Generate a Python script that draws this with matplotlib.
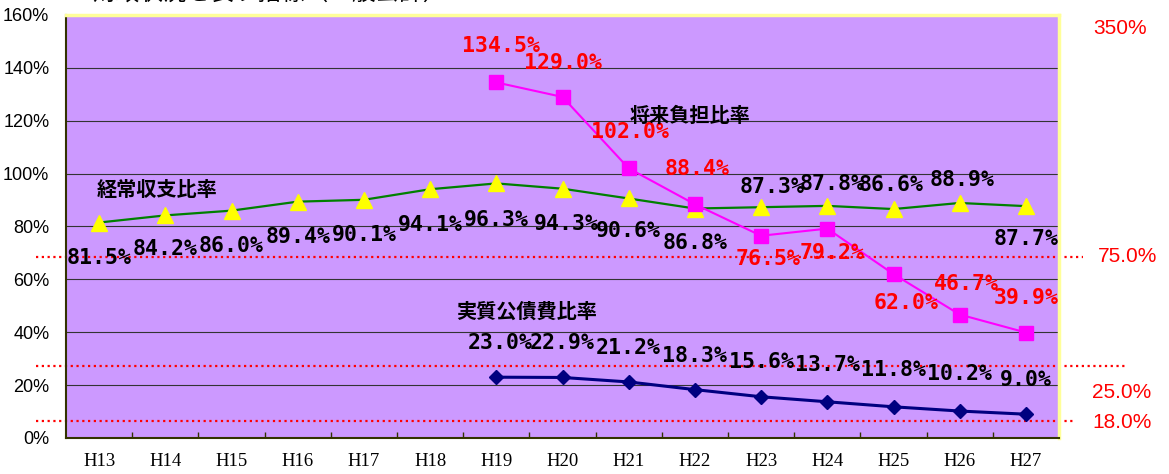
import matplotlib
import matplotlib.pyplot as plt
import numpy as np

matplotlib.use("Agg")

# --- data -------------------------------------------------------------
YEARS = ["H13", "H14", "H15", "H16", "H17", "H18", "H19", "H20",
         "H21", "H22", "H23", "H24", "H25", "H26", "H27"]

KEIJO = [81.5, 84.2, 86.0, 89.4, 90.1, 94.1, 96.3, 94.3,
         90.6, 86.8, 87.3, 87.8, 86.6, 88.9, 87.7]          # 経常収支比率
SHORAI = [134.5, 129.0, 102.0, 88.4, 76.5, 79.2, 62.0, 46.7, 39.9]  # 将来負担比率 (H19-)
JISSHITSU = [23.0, 22.9, 21.2, 18.3, 15.6, 13.7, 11.8, 10.2, 9.0]   # 実質公債費比率 (H19-)
SHORAI_START = 6   # index of H19

THRESH_TEXT = ["75.0%", "25.0%", "18.0%"]
THRESH_LEVEL = [68.6, 27.3, 6.6]   # where the dotted guides sit on the left axis

# --- label placement (pixel offsets from each point) ------------------
KEIJO_OFF = [(0, -35), (0, -34), (0, -35), (0, -35), (0, -35), (0, -36), (0, -37),
             (4, -35), (0, -33), (0, -34), (11, 20), (5, 22), (-2, 24), (2, 23), (0, -33)]
SHORAI_OFF = [(5, 36), (1, 34), (1, 36), (2, 35), (7, -23), (5, -24), (13, -29), (7, 31), (0, 35)]
JISS_OFF = [(4, 34), (0, 34), (0, 34), (0, 34), (0, 35), (0, 37), (0, 37), (0, 37), (0, 34)]

W, H = 1169, 474
PURPLE = "#CC99FF"
RED = "#FF0000"
CJK = ["Noto Sans CJK JP", "DejaVu Sans"]
LABEL_FONT = dict(family="DejaVu Sans Mono", fontweight="bold", fontsize=15.5)


def px(x, y):
    """pixel (from top-left) -> figure fraction"""
    return x / W, 1 - y / H


fig = plt.figure(figsize=(W / 100, H / 100), dpi=100)
l, b = px(66, 438)
ax = fig.add_axes([l, b, 993 / W, 423 / H])
ax.set_facecolor(PURPLE)

x = np.arange(len(YEARS))
xs = x[SHORAI_START:]

ax.set_xlim(-0.5, len(YEARS) - 0.5)
ax.set_ylim(0, 160)
ax.set_yticks(range(0, 161, 20))
ax.set_yticklabels([f"{v}%" for v in range(0, 161, 20)], family="Liberation Sans", fontsize=13)
ax.set_xticks(x)
ax.set_xticklabels(YEARS, family="Liberation Serif", fontsize=13.5)
ax.set_xticks(np.arange(0.5, len(YEARS) - 1, 1), minor=True)
ax.tick_params(axis="both", which="major", length=0)
ax.tick_params(axis="x", which="major", pad=11)
ax.tick_params(axis="y", which="major", pad=12)
ax.tick_params(axis="x", which="minor", direction="in", length=4.5, width=1, color="#333300")
ax.grid(axis="y", color="#333333", linewidth=0.8)
ax.set_axisbelow(True)

for side in ("left", "bottom"):
    ax.spines[side].set_color("#333300")
    ax.spines[side].set_linewidth(1.5)
for side in ("top", "right"):
    ax.spines[side].set_color("#FFFF99")
    ax.spines[side].set_linewidth(2.5)

# dotted guide lines that run past the plot area
guide_x = [(-0.030, 1.024), (-0.030, 1.069), (-0.030, 1.016)]
ytr = ax.get_yaxis_transform()
for (x0, x1), lev in zip(guide_x, THRESH_LEVEL):
    ax.plot([x0, x1], [lev, lev], transform=ytr, clip_on=False, color=RED,
            linestyle=(0, (1, 1.6)), linewidth=1.6, zorder=2)

# series
ax.plot(x, KEIJO, color="#008000", linewidth=1.6, marker="^", markersize=11,
        markerfacecolor="#FFFF00", markeredgecolor="#FFFF00", zorder=3)
ax.plot(xs, SHORAI, color="#FF00FF", linewidth=1.5, marker="s", markersize=9.5,
        markerfacecolor="#FF00FF", markeredgecolor="#FF00FF", zorder=3)
ax.plot(xs, JISSHITSU, color="#000080", linewidth=2.2, marker="D", markersize=7.5,
        markerfacecolor="#000080", markeredgecolor="#000080", zorder=3)

for xi, v, off in zip(x, KEIJO, KEIJO_OFF):
    ax.annotate(f"{v:.1f}%", (xi, v), xytext=off, textcoords="offset pixels",
                ha="center", va="center", color="black", zorder=5, **LABEL_FONT)
for xi, v, off in zip(xs, SHORAI, SHORAI_OFF):
    ax.annotate(f"{v:.1f}%", (xi, v), xytext=off, textcoords="offset pixels",
                ha="center", va="center", color=RED, zorder=5, **LABEL_FONT)
for xi, v, off in zip(xs, JISSHITSU, JISS_OFF):
    ax.annotate(f"{v:.1f}%", (xi, v), xytext=off, textcoords="offset pixels",
                ha="center", va="center", color="black", zorder=5, **LABEL_FONT)

# series names
for name, pos in [("経常収支比率", (157, 190)), ("将来負担比率", (690, 115)),
                  ("実質公債費比率", (527, 311))]:
    fig.text(*px(*pos), name, family=CJK, fontweight="bold", fontsize=14.5,
             ha="center", va="center")

# threshold captions on the right
rfont = dict(family="Liberation Sans", fontsize=15, color=RED, ha="center", va="center")
for txt, pos in [("350%", (1120, 28)), (THRESH_TEXT[0], (1128, 257)),
                 (THRESH_TEXT[1], (1122, 392)), (THRESH_TEXT[2], (1122, 423))]:
    fig.text(*px(*pos), txt, **rfont)

# title, cut off by the top edge of the picture (as in the source image)
fig.text(*px(92, 0), "財政状況を表す指標（一般会計）", family=CJK, fontsize=17,
         ha="left", va="baseline")

fig.savefig("out.png", dpi=100)
